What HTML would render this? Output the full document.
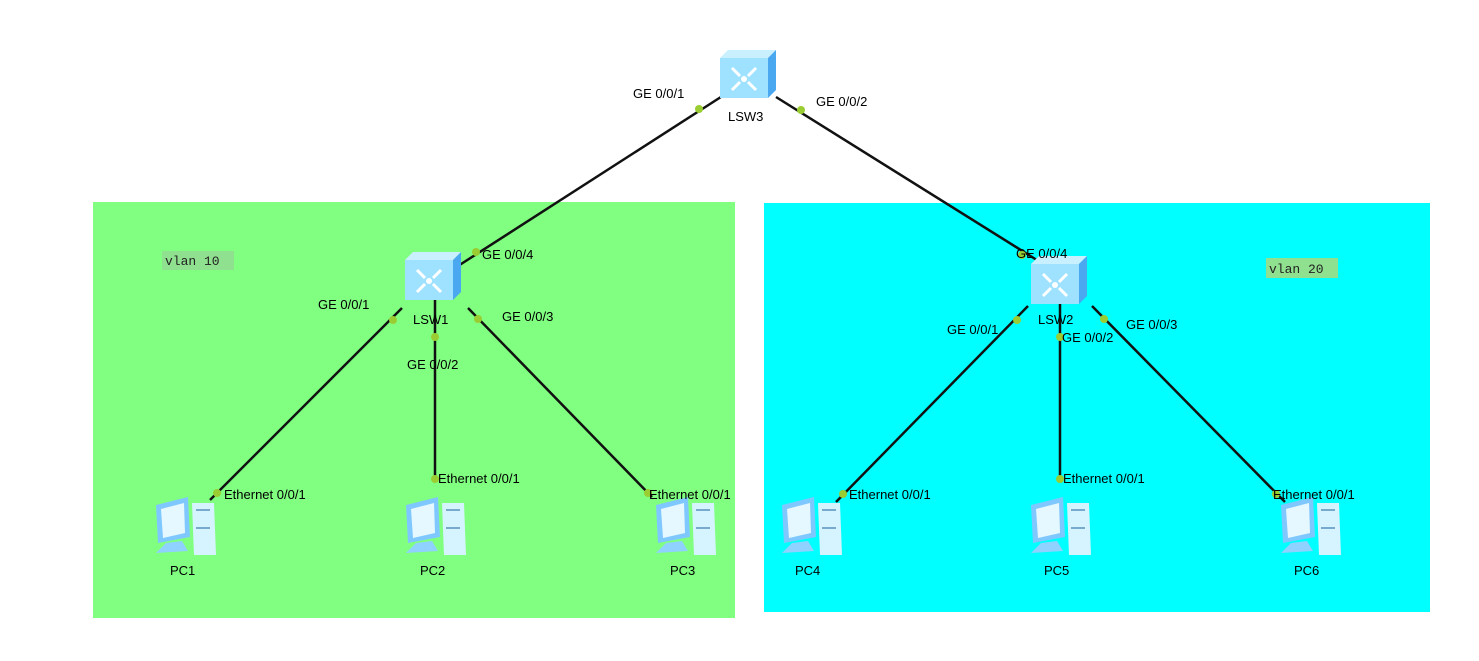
<!DOCTYPE html>
<html><head><meta charset="utf-8"><style>
html,body{margin:0;padding:0;background:#fff;}
svg{display:block;}
text{font-family:"Liberation Sans",sans-serif;font-size:13px;fill:#000;}
.m{font-family:"Liberation Mono",monospace;font-size:13px;fill:#222;}
</style></head><body>
<svg width="1479" height="661" viewBox="0 0 1479 661">
<defs>
<g id="sw">
<polygon points="0,8 8,0 56,0 48,8" fill="#c8f0ff"/>
<polygon points="48,8 56,0 56,40 48,48" fill="#4aa8f0"/>
<rect x="0" y="8" width="48" height="40" fill="#9ee2ff"/>
<g stroke="#fff" stroke-width="3" fill="none">
<path d="M12 18 L20 26 M36 18 L28 26 M12 40 L20 32 M36 40 L28 32"/>
</g>
<circle cx="24" cy="29" r="3" fill="#fff"/>
</g>
<g id="pc">
<polygon points="40,8 62,8 64,60 42,60" fill="#d6f4ff"/>
<rect x="44" y="14" width="14" height="2" fill="#7ac"/>
<rect x="44" y="32" width="14" height="2" fill="#7ac"/>
<polygon points="4,10 36,2 38,42 6,48" fill="#7fc8ff"/>
<polygon points="9,14 32,8 33,38 11,43" fill="#e6f8ff"/>
<polygon points="14,48 30,46 36,56 4,58" fill="#8fd2ff"/>
</g>
</defs>
<rect x="93" y="202" width="642" height="416" fill="#80ff80"/>
<rect x="764" y="203" width="666" height="409" fill="#00ffff"/>
<rect x="162" y="251" width="72" height="19" fill="#8fe08f"/>
<text x="165" y="265" class="m">vlan 10</text>
<rect x="1266" y="258" width="72" height="20" fill="#8fe08f"/>
<text x="1269" y="273" class="m">vlan 20</text>
<g stroke="#111" stroke-width="2.5">
<line x1="724" y1="95" x2="458" y2="266"/>
<line x1="776" y1="97" x2="1040" y2="262"/>
<line x1="402" y1="308" x2="210" y2="500"/>
<line x1="435" y1="300" x2="435" y2="482"/>
<line x1="468" y1="308" x2="652" y2="497"/>
<line x1="1028" y1="306" x2="836" y2="502"/>
<line x1="1060" y1="302" x2="1060" y2="482"/>
<line x1="1092" y1="306" x2="1285" y2="502"/>
</g>
<use href="#sw" x="720" y="50"/>
<use href="#sw" x="405" y="252"/>
<use href="#sw" x="1031" y="256"/>
<g fill="#9acd32">
<circle cx="699" cy="109" r="4"/><circle cx="801" cy="110" r="4"/>
<circle cx="476" cy="252" r="4"/><circle cx="1022" cy="255" r="4"/>
<circle cx="393" cy="320" r="4"/><circle cx="435" cy="337" r="4"/><circle cx="478" cy="319" r="4"/>
<circle cx="217" cy="493" r="4"/><circle cx="435" cy="479" r="4"/><circle cx="648" cy="493" r="4"/>
<circle cx="1017" cy="320" r="4"/><circle cx="1060" cy="337" r="4"/><circle cx="1104" cy="319" r="4"/>
<circle cx="843" cy="494" r="4"/><circle cx="1060" cy="479" r="4"/><circle cx="1276" cy="494" r="4"/>
</g>
<use href="#pc" x="152" y="495"/>
<use href="#pc" x="402" y="495"/>
<use href="#pc" x="652" y="495"/>
<use href="#pc" x="778" y="495"/>
<use href="#pc" x="1027" y="495"/>
<use href="#pc" x="1277" y="495"/>
<text x="728" y="121">LSW3</text>
<text x="413" y="324">LSW1</text>
<text x="1038" y="324">LSW2</text>
<text x="633" y="98">GE 0/0/1</text>
<text x="816" y="106">GE 0/0/2</text>
<text x="482" y="259">GE 0/0/4</text>
<text x="318" y="309">GE 0/0/1</text>
<text x="502" y="321">GE 0/0/3</text>
<text x="407" y="369">GE 0/0/2</text>
<text x="1016" y="258">GE 0/0/4</text>
<text x="947" y="334">GE 0/0/1</text>
<text x="1062" y="342">GE 0/0/2</text>
<text x="1126" y="329">GE 0/0/3</text>
<text x="224" y="499">Ethernet 0/0/1</text>
<text x="438" y="483">Ethernet 0/0/1</text>
<text x="649" y="499">Ethernet 0/0/1</text>
<text x="849" y="499">Ethernet 0/0/1</text>
<text x="1063" y="483">Ethernet 0/0/1</text>
<text x="1273" y="499">Ethernet 0/0/1</text>
<text x="170" y="575">PC1</text>
<text x="420" y="575">PC2</text>
<text x="670" y="575">PC3</text>
<text x="795" y="575">PC4</text>
<text x="1044" y="575">PC5</text>
<text x="1294" y="575">PC6</text>
</svg>
</body></html>
